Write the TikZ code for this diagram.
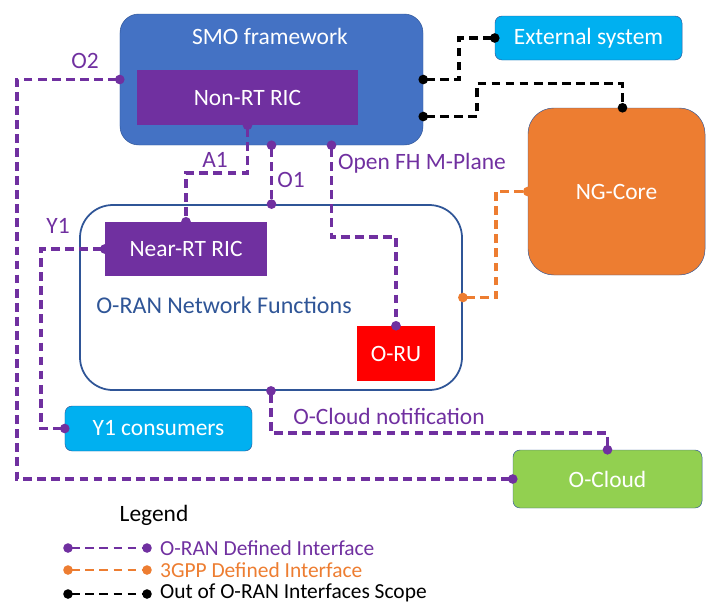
\documentclass[tikz,border=0pt]{standalone}
\usepackage{fontspec}
\setmainfont{Carlito}
\usetikzlibrary{arrows.meta, calc}
\definecolor{smoblue}{HTML}{4472C4}
\definecolor{ricpurple}{HTML}{7030A0}
\definecolor{extcyan}{HTML}{00B0F0}
\definecolor{coreorange}{HTML}{ED7D31}
\definecolor{cloudgreen}{HTML}{92D050}
\definecolor{nfblue}{HTML}{2F5597}
\newcommand{\bigtext}{\fontsize{20}{24}\selectfont}
\newcommand{\legendtext}{\fontsize{18.3}{22}\selectfont}

\begin{document}
\begin{tikzpicture}[x=0.03cm, y=-0.03cm, every node/.style={font=\bigtext},
    box/.style={draw=nfblue, thin, rounded corners=6pt, text=white},
    link/.style={line width=3pt, dash pattern=on 7.5pt off 4.5pt, {Circle[length=8pt]}-{Circle[length=8pt]}, shorten <=-4pt, shorten >=-4pt},
    oran/.style={link, draw=ricpurple},
    gpp/.style={link, draw=coreorange},
    outscope/.style={link, draw=black},
    lbl/.style={text=ricpurple}]
    \useasboundingbox (0,0) rectangle (707,605);

    % boxes
    \node[box, fill=smoblue, rounded corners=16pt, minimum width=9.09cm, minimum height=3.93cm] (smo) at (271.5,79.5) {};
    \node[text=white] (smotitle) at (270,36) {SMO framework};
    \node[draw=none, fill=ricpurple, text=white, minimum width=6.63cm, minimum height=1.65cm] (nonrt) at (247.5,97.5) {Non-RT RIC};
    \node[box, fill=extcyan, minimum width=5.61cm, minimum height=1.32cm] (ext) at (588.5,38) {External system};
    \node[box, fill=coreorange, rounded corners=22pt, minimum width=5.31cm, minimum height=5.01cm] (ngcore) at (616.5,191.5) {NG-Core};
    \node[draw=nfblue, line width=1.5pt, fill=white, rounded corners=28pt, minimum width=11.46cm, minimum height=5.55cm] (nf) at (271,297.5) {};
    \node[text=nfblue, font=\fontsize{20.5}{24}\selectfont] (nftitle) at (224,305) {O-RAN Network Functions};
    \node[draw=none, fill=ricpurple, text=white, minimum width=4.86cm, minimum height=1.62cm] (nearrt) at (186,249) {Near-RT RIC};
    \node[draw=none, fill=red, text=white, minimum width=2.34cm, minimum height=1.65cm] (oru) at (396,353.5) {O-RU};
    \node[box, fill=extcyan, minimum width=5.61cm, minimum height=1.35cm] (y1c) at (158.5,428.5) {Y1 consumers};
    \node[box, fill=cloudgreen, minimum width=5.67cm, minimum height=1.74cm] (ocloud) at (607.5,479) {O-Cloud};

    % interfaces
    \draw[oran] (smo.west) -- ++(-103,0) |- (ocloud.west);
    \draw[oran] (nonrt.south) -- ++(0,48) -| (nearrt.north);
    \draw[oran] (smo.south) -- (smo.south |- nf.north);
    \draw[oran] ($(smo.south)+(60,0)$) -- ++(0,92) -| (oru.north);
    \draw[oran] (nearrt.west) -- ++(-64,0) |- (y1c.west);
    \draw[oran] (nf.south) -- ++(0,42) -| (ocloud.north);
    \draw[outscope] (smo.east) -- ++(36,0) |- (ext.west);
    \draw[outscope] ($(smo.east)+(0,37)$) -- ++(54,0) -- ++(0,-33) -| ($(ngcore.north)+(6,0)$);
    \draw[gpp] (nf.east) -- ++(33,0) |- (ngcore.west);

    \node[lbl] (o2lbl) at (85,61) {O2};
    \node[lbl] (a1lbl) at (215,160) {A1};
    \node[lbl] (o1lbl) at (291,180) {O1};
    \node[lbl, anchor=west] (fhlbl) at (334,163) {Open FH M-Plane};
    \node[lbl] (y1lbl) at (58,226) {Y1};
    \node[lbl] (notiflbl) at (389,416) {O-Cloud notification};

    % Legend
    \node (legendtitle) at (154,515) {Legend};
    \coordinate (oranA) at (68,548);
    \coordinate (oranB) at (147,548);
    \coordinate (gppA) at (68,570);
    \coordinate (gppB) at (147,570);
    \coordinate (outA) at (68,594);
    \coordinate (outB) at (147,594);
    \draw[oran, line width=2.3pt] (oranA) -- (oranB);
    \draw[gpp, line width=2.3pt] (gppA) -- (gppB);
    \draw[outscope, line width=2.3pt] (outA) -- (outB);
    \node[anchor=west, font=\legendtext, text=ricpurple] (orantxt) at (156,548) {O-RAN Defined Interface};
    \node[anchor=west, font=\legendtext, text=coreorange] (gpptxt) at (156,570) {3GPP Defined Interface};
    \node[anchor=west, font=\legendtext] (outtxt) at (156,593) {Out of O-RAN Interfaces Scope};
\end{tikzpicture}
\end{document}
